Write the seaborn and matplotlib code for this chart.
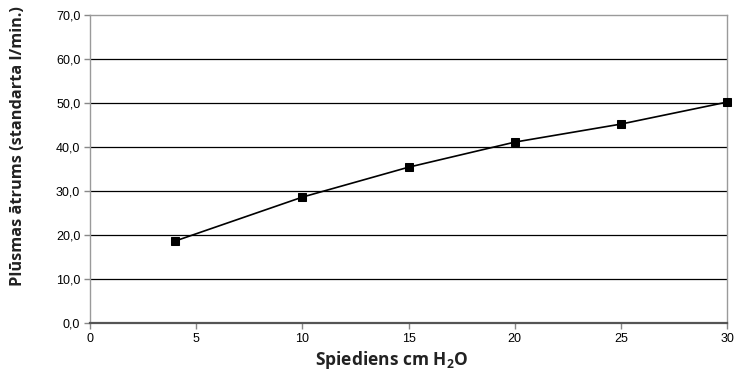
import pandas as pd
import seaborn as sns
import matplotlib.pyplot as plt
from matplotlib.ticker import MultipleLocator, FuncFormatter

# Dati: spiediens (cm H2O) un plūsmas ātrums (standarta l/min.)
spiediens = [4, 10, 15, 20, 25, 30]
plusma = [18.6, 28.6, 35.4, 41.1, 45.2, 50.2]

df = pd.DataFrame({"spiediens": spiediens, "plusma": plusma})

sns.set_style("white")
plt.rcParams['font.family'] = ['Liberation Sans', 'DejaVu Sans']
plt.rcParams['mathtext.default'] = 'regular'

fig = plt.figure(figsize=(7.34, 3.9), dpi=100)
ax = fig.add_axes([0.1226, 0.172, 0.8679, 0.7895])

# horizontālās režģa līnijas
for yv in range(10, 70, 10):
    ax.axhline(yv, color='black', lw=0.9, zorder=1)

sns.lineplot(data=df, x="spiediens", y="plusma", marker='s', color='black',
             markersize=6, markeredgecolor='black', linewidth=1.2, ax=ax,
             zorder=3, clip_on=False)

ax.set_xlim(0, 30)
ax.set_ylim(0, 70)
ax.xaxis.set_major_locator(MultipleLocator(5))
ax.yaxis.set_major_locator(MultipleLocator(10))
ax.yaxis.set_major_formatter(FuncFormatter(lambda v, p: f"{v:.1f}".replace('.', ',')))

for s in ['left', 'right', 'top']:
    ax.spines[s].set_color('#9a9a9a')
    ax.spines[s].set_linewidth(1.0)
ax.spines['bottom'].set_color('#555555')
ax.spines['bottom'].set_linewidth(1.6)

ax.tick_params(axis='both', direction='out', length=4, width=1,
               color='#888888', labelsize=9, labelcolor='black', pad=3)
ax.tick_params(axis='y', left=True)
ax.tick_params(axis='x', bottom=True)

ax.set_xlabel("Spiediens cm H$_2$O", fontsize=12.5, fontweight='bold',
              family='Open Sans', color='#222222', va='center')
ax.set_ylabel("Plūsmas ātrums (standarta l/min.)", fontsize=11.8, fontweight='bold',
              family='Open Sans', color='#222222', va='center')
ax.xaxis.set_label_coords(0.474, -0.12)
ax.yaxis.set_label_coords(-0.113, 0.575)

fig.savefig("out.png", dpi=100)
